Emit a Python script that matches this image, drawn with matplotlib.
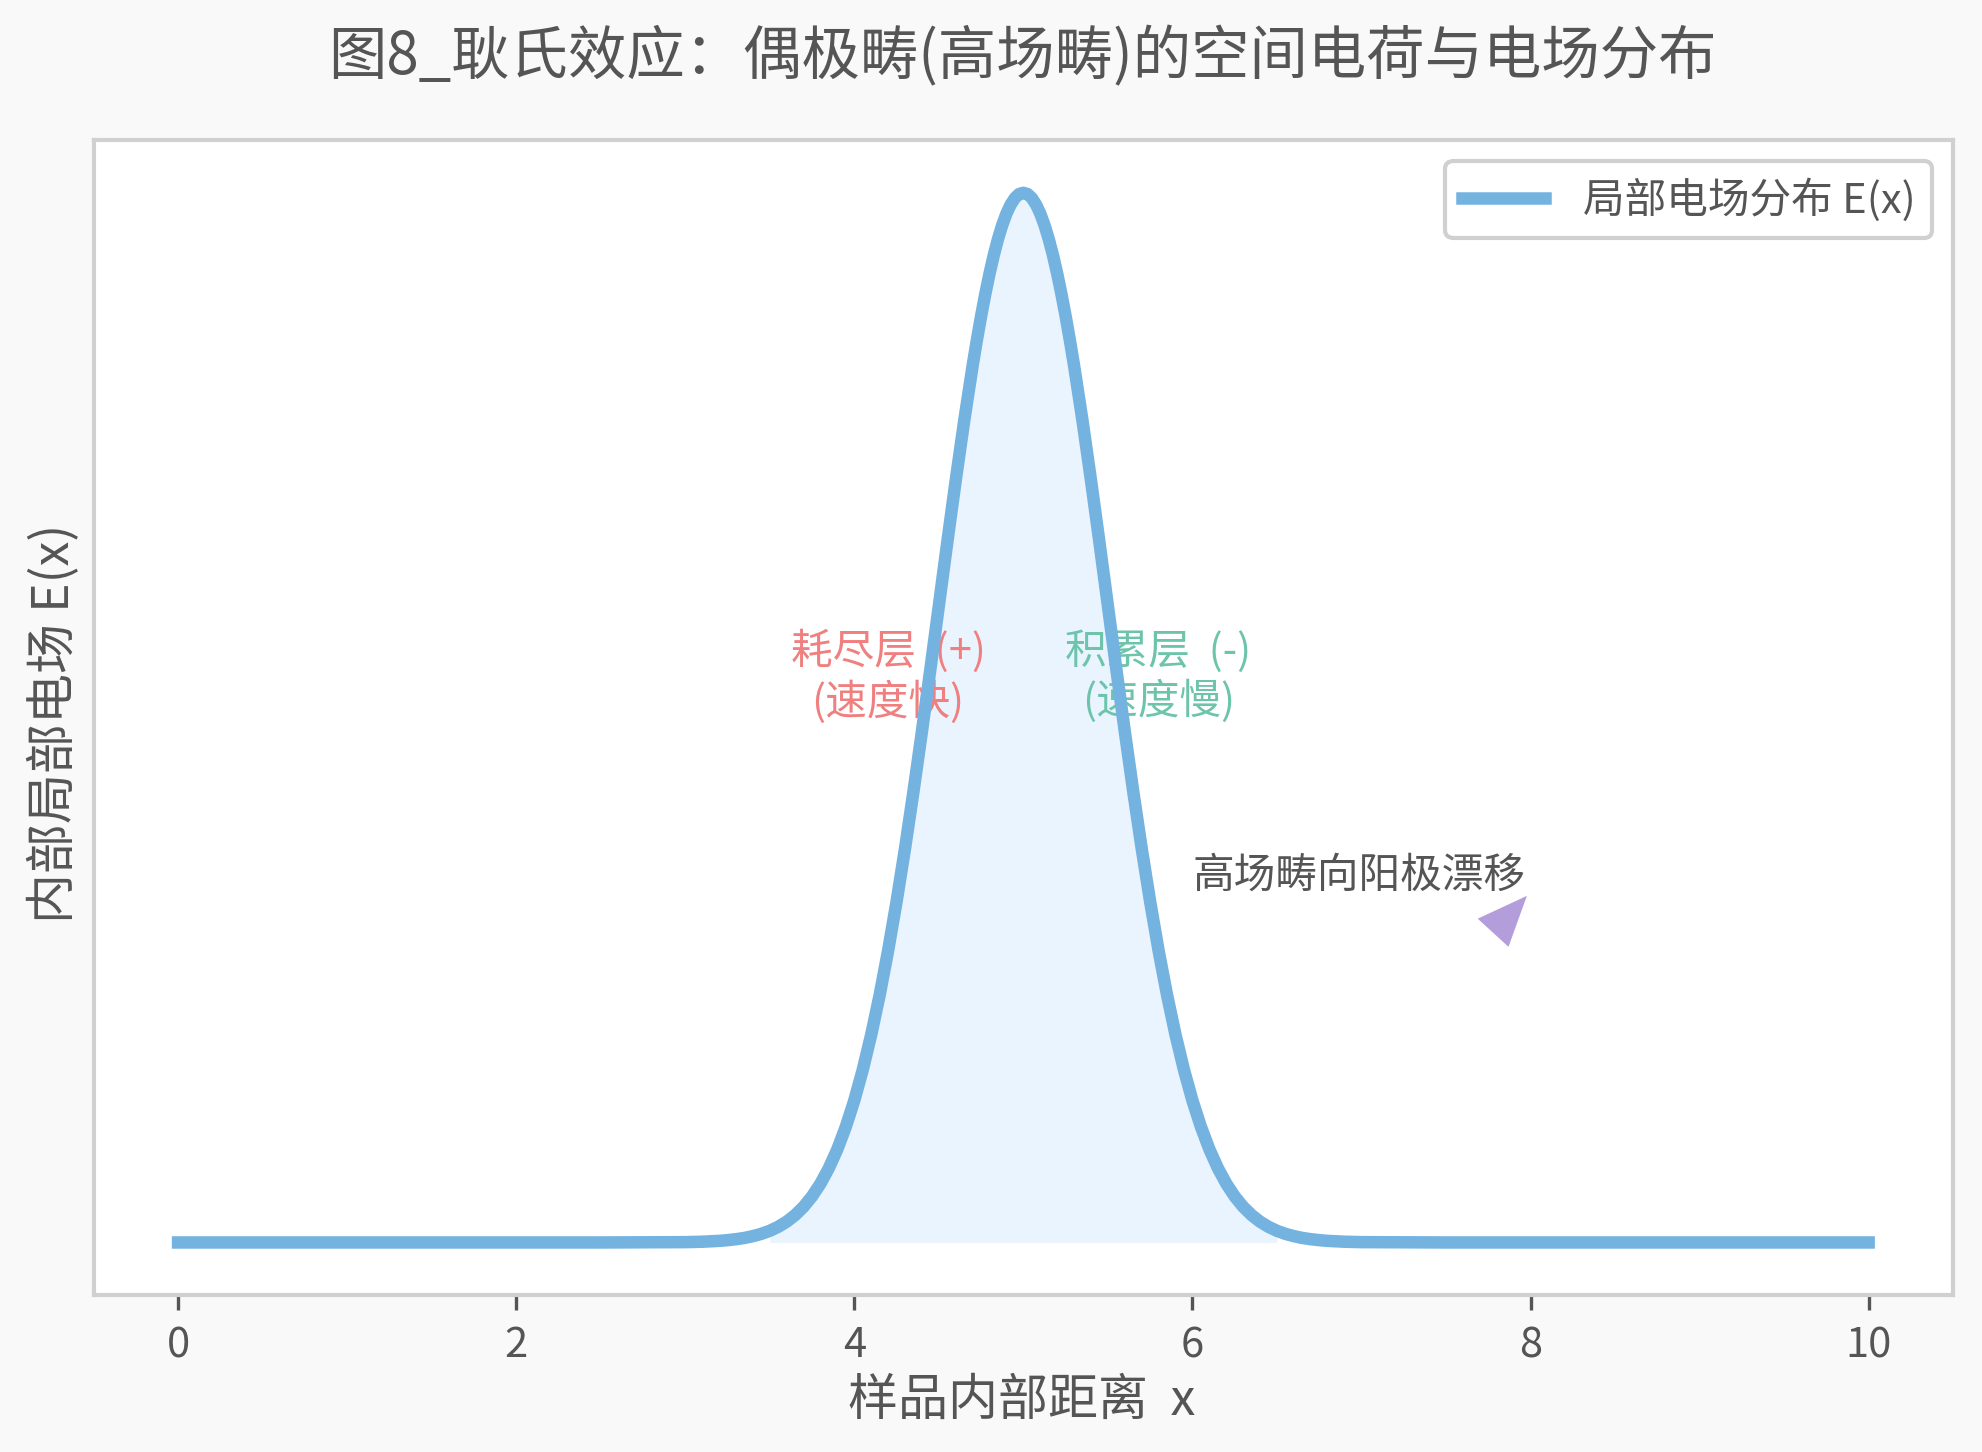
import matplotlib.pyplot as plt

plt.rcParams['font.family'] = ['Noto Sans CJK SC', 'DejaVu Sans']

# sample positions inside the sample (x) and local field E(x)
x_pos = [0.0, 1.0, 2.0, 2.5,
         3.0, 3.05, 3.1, 3.15, 3.2, 3.25, 3.3, 3.35, 3.4, 3.45,
         3.5, 3.55, 3.6, 3.65, 3.7, 3.75, 3.8, 3.85, 3.9, 3.95,
         4.0, 4.05, 4.1, 4.15, 4.2, 4.25, 4.3, 4.35, 4.4, 4.45,
         4.5, 4.55, 4.6, 4.65, 4.7, 4.725, 4.75, 4.775, 4.8, 4.825, 4.85, 4.875,
         4.9, 4.925, 4.95, 4.975,
         5.0, 5.025, 5.05, 5.075, 5.1, 5.125, 5.15, 5.175, 5.2, 5.225, 5.25, 5.275,
         5.3, 5.35, 5.4, 5.45,
         5.5, 5.55, 5.6, 5.65, 5.7, 5.75, 5.8, 5.85, 5.9, 5.95,
         6.0, 6.05, 6.1, 6.15, 6.2, 6.25, 6.3, 6.35, 6.4, 6.45,
         6.5, 6.55, 6.6, 6.65, 6.7, 6.75, 6.8, 6.85, 6.9, 6.95,
         7.0, 7.5, 8.0, 9.0, 10.0]
e_field = [0.0, 0.0, 0.0, 0.0,
           0.0003, 0.0005, 0.0007, 0.0011, 0.0015, 0.0022, 0.0031, 0.0043, 0.0060, 0.0082,
           0.0111, 0.0149, 0.0198, 0.0261, 0.0340, 0.0439, 0.0561, 0.0710, 0.0889, 0.1103,
           0.1353, 0.1645, 0.1979, 0.2357, 0.2780, 0.3247, 0.3753, 0.4296, 0.4868, 0.5461,
           0.6065, 0.6670, 0.7261, 0.7827, 0.8353, 0.8596, 0.8825, 0.9037, 0.9231, 0.9406,
           0.9560, 0.9692,
           0.9802, 0.9888, 0.9950, 0.9988,
           1.0000, 0.9988, 0.9950, 0.9888, 0.9802, 0.9692, 0.9560, 0.9406, 0.9231, 0.9037,
           0.8825, 0.8596,
           0.8353, 0.7827, 0.7261, 0.6670,
           0.6065, 0.5461, 0.4868, 0.4296, 0.3753, 0.3247, 0.2780, 0.2357, 0.1979, 0.1645,
           0.1353, 0.1103, 0.0889, 0.0710, 0.0561, 0.0439, 0.0340, 0.0261, 0.0198, 0.0149,
           0.0111, 0.0082, 0.0060, 0.0043, 0.0031, 0.0022, 0.0015, 0.0011, 0.0007, 0.0005,
           0.0003, 0.0, 0.0, 0.0, 0.0]

domain_start = 3.5
domain_end = 6.5

grey = '#555555'
line_color = '#74b3e0'

fig = plt.figure(figsize=(6.607, 4.843), dpi=300, facecolor='#f9f9f9')
ax = fig.add_axes([0.0472, 0.1081, 0.9382, 0.7947])
ax.set_facecolor('white')

# charge domain shading
in_domain = [domain_start <= v <= domain_end for v in x_pos]
ax.fill_between(x_pos, 0, e_field, where=in_domain, color='#74b9ff', alpha=0.15,
                linewidth=0, zorder=1)

# field curve
ax.plot(x_pos, e_field, color=line_color, lw=3, label='局部电场分布 E(x)', zorder=4)

# layer labels
ax.text(4.2, 0.54, '耗尽层  (+)\n(速度快)', color='#f08080', fontsize=10,
        ha='center', va='center', zorder=2)
ax.text(5.8, 0.54, '积累层  (-)\n(速度慢)', color='#6cc4aa', fontsize=10,
        ha='center', va='center', zorder=2)

# drift note and arrow
ax.text(6.0, 0.35, '高场畴向阳极漂移', color=grey, fontsize=10, ha='left', va='center')
ax.annotate('', xy=(8.0, 0.334), xytext=(7.75, 0.29),
            arrowprops=dict(arrowstyle='-|>,head_length=0.6,head_width=0.25',
                            mutation_scale=20, fc='#b39ddb', ec='none',
                            shrinkA=0, shrinkB=0))

ax.set_xlim(-0.5, 10.5)
ax.set_ylim(-0.05, 1.05)
ax.set_yticks([])
ax.tick_params(axis='x', colors=grey, labelsize=10, length=3.5)
for s in ax.spines.values():
    s.set_color('#d0d0d0')
    s.set_linewidth(1)

leg = ax.legend(loc='upper right', fontsize=10, edgecolor='#d0d0d0', framealpha=1,
                labelcolor=grey, handletextpad=0.9)
leg.get_frame().set_linewidth(1)

fig.text(0.516, 0.960, '图8_耿氏效应：偶极畴(高场畴)的空间电荷与电场分布',
         fontsize=14, color=grey, ha='center', va='center')
fig.text(0.5155, 0.036, '样品内部距离  x', fontsize=12, color=grey, ha='center', va='center')
fig.text(0.028, 0.502, '内部局部电场 E(x)', fontsize=12, color=grey, ha='center',
         va='center', rotation=90)

fig.savefig('out.png', dpi=300, facecolor=fig.get_facecolor())
